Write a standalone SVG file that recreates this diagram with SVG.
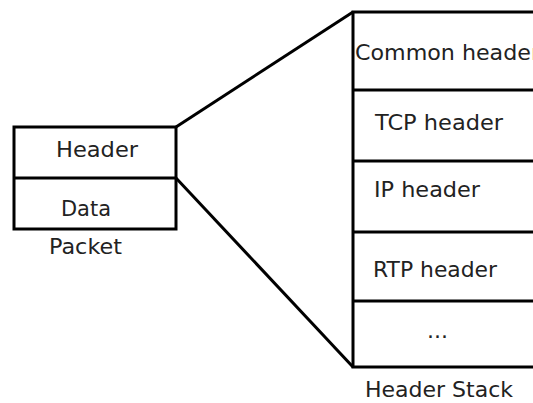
<svg xmlns="http://www.w3.org/2000/svg" width="533" height="403" viewBox="0 0 533 403">
<style>
.box{fill:#fff;stroke:#000;stroke-width:3}
.div{stroke:#000;stroke-width:3}
.t{font-family:"DejaVu Sans",sans-serif;font-size:22px;fill:#222}
</style>
<rect width="533" height="403" fill="#fff"/>
<g id="connectors">
<line class="div" x1="176" y1="127" x2="353" y2="12"/>
<line class="div" x1="176" y1="178" x2="353" y2="367"/>
</g>
<g id="packet">
<rect class="box" x="14" y="127" width="162" height="102"/>
<line class="div" x1="14" y1="178" x2="176" y2="178"/>
<text class="t" x="56" y="157" textLength="82" lengthAdjust="spacingAndGlyphs">Header</text>
<text class="t" x="61" y="216" textLength="50" lengthAdjust="spacingAndGlyphs">Data</text>
<text class="t" x="49" y="254" textLength="73" lengthAdjust="spacingAndGlyphs">Packet</text>
</g>
<g id="header-stack">
<rect class="box" x="353" y="12" width="200" height="355"/>
<line class="div" x1="353" y1="90" x2="540" y2="90"/>
<line class="div" x1="353" y1="161" x2="540" y2="161"/>
<line class="div" x1="353" y1="232" x2="540" y2="232"/>
<line class="div" x1="353" y1="301" x2="540" y2="301"/>
<text class="t" x="355" y="60" textLength="185" lengthAdjust="spacingAndGlyphs">Common header</text>
<text class="t" x="375" y="130" textLength="128" lengthAdjust="spacingAndGlyphs">TCP header</text>
<text class="t" x="374" y="197" textLength="106" lengthAdjust="spacingAndGlyphs">IP header</text>
<text class="t" x="373" y="277" textLength="124" lengthAdjust="spacingAndGlyphs">RTP header</text>
<text class="t" x="427" y="338">...</text>
<text class="t" x="365" y="397" textLength="148" lengthAdjust="spacingAndGlyphs">Header Stack</text>
</g>
</svg>
